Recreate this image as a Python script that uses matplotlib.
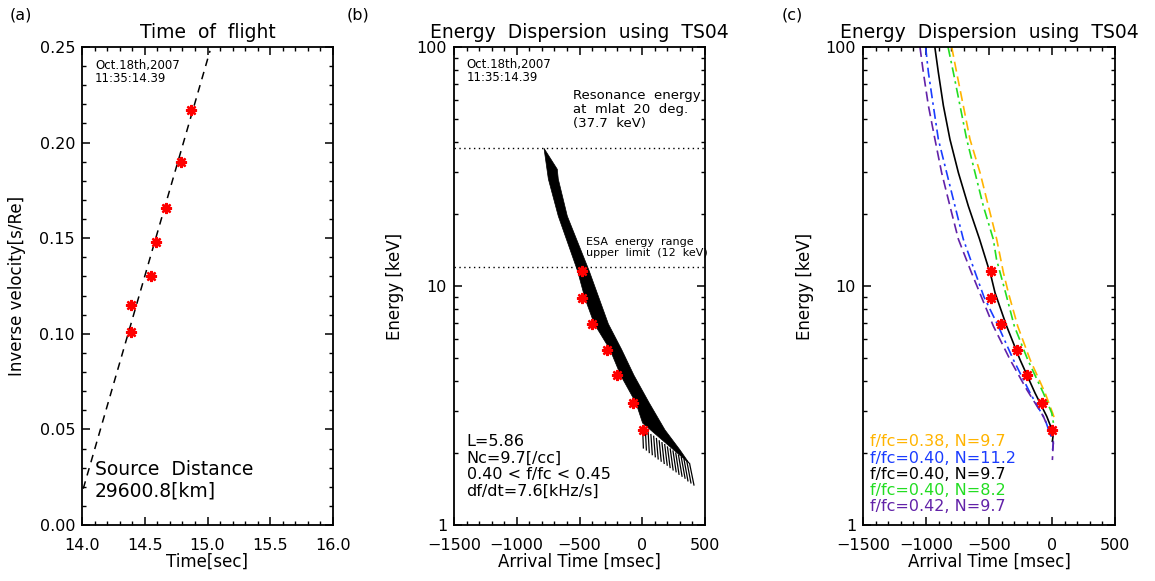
import numpy as np
import matplotlib.pyplot as plt
from matplotlib.ticker import MultipleLocator, FixedLocator, FixedFormatter, LogLocator, NullFormatter, FormatStrFormatter

# ---- data ----
# (a) time of flight
tof_t = [14.39, 14.39, 14.55, 14.59, 14.67, 14.79, 14.87]
tof_inv = [0.115, 0.101, 0.130, 0.148, 0.166, 0.190, 0.217]
fit_t = [14.01, 15.02]
fit_inv = [0.019, 0.248]

# (b)/(c) observed dispersion points
obs_t = [-483, -483, -403, -278, -199, -76, 3]
obs_E = [11.5, 8.87, 6.94, 5.42, 4.23, 3.24, 2.49]

# (b) simulated band outline (arrival time msec, energy keV)
band_t = [-783, -677, -669, -597, -422, -270, -164, -66, 56, 181, 301, 375,
          3, -50, -172, -257, -382, -456, -515, -669, -748]
band_E = [37.7, 30.8, 28.0, 19.6, 11.54, 6.94, 5.42, 4.23, 3.24, 2.50, 2.06, 1.81,
          2.67, 3.24, 4.23, 5.42, 6.94, 8.86, 11.54, 19.6, 28.0]
# comb of curve ends at the bottom of the band
teeth_t_top = [3, 25, 47, 69, 91, 113, 135, 157, 179, 201, 223, 245, 267, 289, 311, 333, 355, 377]
teeth_t_bot = [9, 33, 56, 80, 104, 127, 151, 175, 199, 222, 246, 270, 293, 317, 341, 364, 388, 412]
teeth_E_top = [2.54, 2.49, 2.44, 2.39, 2.35, 2.30, 2.25, 2.21, 2.17, 2.12, 2.08, 2.04, 2.00, 1.96, 1.92, 1.88, 1.85, 1.81]
teeth_E_bot = [2.10, 2.06, 2.01, 1.97, 1.93, 1.89, 1.85, 1.81, 1.78, 1.74, 1.70, 1.67, 1.63, 1.60, 1.57, 1.53, 1.50, 1.47]
res_energy = 37.7
esa_limit = 12.0

# (c) model curves
orange_t = [-796, -757, -704, -651, -571, -505, -439, -386, -346, -272, -174, -55, 5, 24]
orange_E = [100, 78.3, 56.8, 41.1, 29.8, 21.6, 15.7, 11.4, 9.36, 6.79, 4.92, 3.57, 2.94, 2.75]
blue_t = [-1003, -981, -942, -902, -836, -770, -704, -610, -540, -426, -307, -174, -55, 11, 3]
blue_E = [100, 78.3, 56.8, 41.1, 29.8, 21.6, 15.7, 11.4, 9.0, 6.79, 4.92, 3.57, 2.76, 2.20, 2.03]
black_t = [-930, -902, -862, -810, -743, -664, -575, -484, -452, -360, -254, -135, -42, 11, 3]
black_E = [100, 78.3, 56.8, 41.1, 29.8, 21.6, 15.7, 11.0, 9.36, 6.79, 4.92, 3.57, 2.85, 2.42, 2.24]
green_t = [-825, -783, -730, -677, -611, -545, -466, -440, -368, -299, -193, -69, -2, 15]
green_E = [100, 78.3, 56.8, 41.1, 29.8, 21.6, 15.7, 12.9, 9.36, 6.79, 4.92, 3.57, 2.94, 2.6]
purple_t = [-1048, -1021, -981, -929, -876, -810, -743, -640, -560, -465, -333, -201, -69, 11, 3]
purple_E = [100, 78.3, 56.8, 41.1, 29.8, 21.6, 15.7, 11.4, 9.0, 6.79, 4.92, 3.69, 2.85, 2.27, 1.87]

legend_txt = ['f/fc=0.38, N=9.7', 'f/fc=0.40, N=11.2', 'f/fc=0.40, N=9.7',
              'f/fc=0.40, N=8.2', 'f/fc=0.42, N=9.7']
c_orange, c_blue, c_green, c_purple = '#FFB400', '#1A3CFF', '#22DD22', '#6222A8'

plt.rcParams['font.family'] = ['DejaVu Sans']

fig = plt.figure(figsize=(11.55, 5.81), dpi=100)
W, H = 1155, 581
top, bot = 47, 525


def make_ax(left, right):
    return fig.add_axes([left / W, (H - bot) / H, (right - left) / W, (bot - top) / H])


def style(ax):
    for s in ax.spines.values():
        s.set_linewidth(1.3)
    ax.tick_params(which='both', direction='in', top=True, right=True, labelsize=11.5)
    ax.tick_params(which='major', length=6, width=1.1)
    ax.tick_params(which='minor', length=3, width=1.0)
    ax.tick_params(axis='x', which='both', pad=9)
    ax.tick_params(axis='y', which='both', pad=5)


star = dict(ls='none', marker=(8, 2, 0), ms=8, mew=1.7, mec='red', mfc='red', zorder=5)

# ---------- (a) ----------
axa = make_ax(82, 333)
style(axa)
axa.plot(fit_t, fit_inv, ls=(0, (5, 4)), color='black', lw=1.1)
axa.plot(tof_t, tof_inv, **star)
axa.set_xlim(14, 16)
axa.set_ylim(0, 0.25)
axa.xaxis.set_major_locator(MultipleLocator(0.5))
axa.xaxis.set_minor_locator(MultipleLocator(0.1))
axa.xaxis.set_major_formatter(FormatStrFormatter('%.1f'))
axa.yaxis.set_major_locator(MultipleLocator(0.05))
axa.yaxis.set_minor_locator(MultipleLocator(0.01))
axa.yaxis.set_major_formatter(FormatStrFormatter('%.2f'))
axa.set_xlabel('Time[sec]', fontsize=12)
axa.set_ylabel('Inverse velocity[s/Re]', fontsize=12)
axa.xaxis.set_label_coords(0.5, -0.057)
axa.yaxis.set_label_coords(-0.223, 0.5)
axa.text(0.5, 1.031, 'Time  of  flight', transform=axa.transAxes, ha='center', va='center', fontsize=13.5)
axa.text(0.052, 0.975, 'Oct.18th,2007\n11:35:14.39', transform=axa.transAxes, ha='left', va='top',
         fontsize=8.5, linespacing=1.05)
axa.text(0.052, 0.094, 'Source  Distance\n29600.8[km]', transform=axa.transAxes, ha='left', va='center',
         fontsize=13.5, linespacing=1.15)


def log_axis(ax):
    ax.set_yscale('log')
    ax.set_ylim(1, 100)
    ax.set_xlim(-1500, 500)
    ax.xaxis.set_major_locator(MultipleLocator(500))
    ax.xaxis.set_minor_locator(MultipleLocator(100))
    ax.yaxis.set_major_locator(FixedLocator([1, 10, 100]))
    ax.yaxis.set_major_formatter(FixedFormatter(['1', '10', '100']))
    ax.yaxis.set_minor_locator(LogLocator(base=10, subs=np.arange(2, 10)))
    ax.yaxis.set_minor_formatter(NullFormatter())
    ax.set_xlabel('Arrival Time [msec]', fontsize=12)
    ax.set_ylabel('Energy [keV]', fontsize=12)
    ax.xaxis.set_label_coords(0.5, -0.057)
    ax.text(0.5, 1.031, 'Energy  Dispersion  using  TS04', transform=ax.transAxes,
            ha='center', va='center', fontsize=13.5)


# ---------- (b) ----------
axb = make_ax(454, 705)
style(axb)
log_axis(axb)
axb.yaxis.set_label_coords(-0.200, 0.5)
axb.fill(band_t, band_E, color='black', lw=0.5, zorder=2)
for t0, t1, e0, e1 in zip(teeth_t_top, teeth_t_bot, teeth_E_top, teeth_E_bot):
    axb.plot([t0, t1], [e0, e1], color='black', lw=0.9, zorder=2)
axb.axhline(res_energy, ls=(0, (1, 2.5)), color='black', lw=1.0)
axb.axhline(esa_limit, ls=(0, (1, 2.5)), color='black', lw=1.0)
axb.plot(obs_t, obs_E, **star)
axb.text(0.05, 0.977, 'Oct.18th,2007\n11:35:14.39', transform=axb.transAxes, ha='left', va='top',
         fontsize=8.5, linespacing=1.05)
axb.text(0.474, 0.870, 'Resonance  energy\nat  mlat  20  deg.\n(37.7  keV)', transform=axb.transAxes,
         ha='left', va='center', fontsize=9.5, linespacing=1.1)
axb.text(0.526, 0.5805, 'ESA  energy  range\nupper  limit  (12  keV)', transform=axb.transAxes,
         ha='left', va='center', fontsize=8, linespacing=1.2)
axb.text(0.05, 0.1224, 'L=5.86\nNc=9.7[/cc]\n0.40 < f/fc < 0.45\ndf/dt=7.6[kHz/s]', transform=axb.transAxes,
         ha='left', va='center', fontsize=11.5, linespacing=1.15)

# ---------- (c) ----------
axc = make_ax(863, 1115)
style(axc)
log_axis(axc)
axc.yaxis.set_label_coords(-0.196, 0.5)
axc.plot(orange_t, orange_E, color=c_orange, ls=(0, (6, 3)), lw=1.2)
axc.plot(blue_t, blue_E, color=c_blue, ls=(0, (6, 2.5, 1.5, 2.5)), lw=1.2)
axc.plot(black_t, black_E, color='black', ls='-', lw=1.2)
axc.plot(green_t, green_E, color=c_green, ls=(0, (6, 2.5, 1.5, 2.5)), lw=1.2)
axc.plot(purple_t, purple_E, color=c_purple, ls=(0, (6, 3)), lw=1.2)
axc.plot(obs_t, obs_E, **star)
leg_y = [0.174, 0.140, 0.1065, 0.073, 0.039]
for txt, col, y in zip(legend_txt, [c_orange, c_blue, 'black', c_green, c_purple], leg_y):
    axc.text(0.028, y, txt, transform=axc.transAxes, ha='left', va='center', fontsize=11.5, color=col)

# panel labels
fig.text(10 / W, 1 - 15 / H, '(a)', ha='left', va='center', fontsize=11.5)
fig.text(347 / W, 1 - 15 / H, '(b)', ha='left', va='center', fontsize=11.5)
fig.text(782 / W, 1 - 15 / H, '(c)', ha='left', va='center', fontsize=11.5)

fig.savefig('out.png', dpi=100)
